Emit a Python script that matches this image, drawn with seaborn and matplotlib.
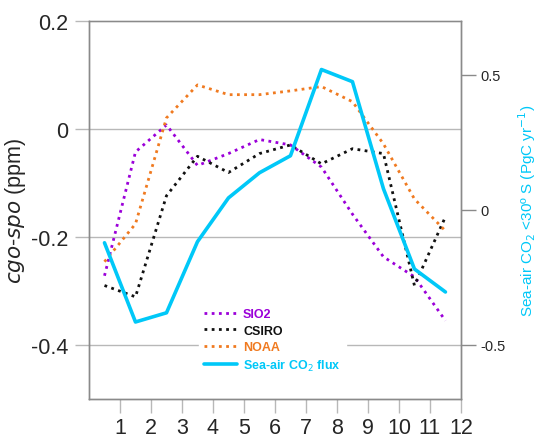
import pandas as pd
import matplotlib.pyplot as plt
import numpy as np
import seaborn as sns

# monthly cgo-spo differences (ppm) and sea-air flux (PgC/yr)
months = [1, 2, 3, 4, 5, 6, 7, 8, 9, 10, 11, 12]
sio2 = [-0.272, -0.043, 0.007, -0.068, -0.046, -0.020, -0.030, -0.071, -0.158, -0.237, -0.274, -0.355]
csiro = [-0.290, -0.311, -0.124, -0.051, -0.081, -0.046, -0.030, -0.065, -0.037, -0.046, -0.290, -0.163]
noaa = [-0.246, -0.176, 0.020, 0.081, 0.063, 0.063, 0.070, 0.078, 0.050, -0.028, -0.130, -0.189]
flux = [-0.122, -0.415, -0.381, -0.118, 0.044, 0.137, 0.200, 0.519, 0.474, 0.078, -0.219, -0.304]

df = pd.DataFrame({'month': np.array(months) - 0.5, 'SIO2': sio2, 'CSIRO': csiro,
                   'NOAA': noaa, 'flux': flux})

sns.set_style('white')
plt.rcParams['font.family'] = ['Liberation Sans', 'DejaVu Sans']

fig = plt.figure(figsize=(5.41, 4.39), dpi=100)
ax = fig.add_axes([0.1645, 0.0888, 0.6875, 0.862])
ax2 = ax.twinx()

grid_c = '#b8b8b8'
spine_c = '#8a8a8a'
for y in [0, -0.2, -0.4]:
    ax.axhline(y, color=grid_c, lw=1, zorder=0)

dots = (0, (1, 1.6))
sns.lineplot(data=df, x='month', y='SIO2', ax=ax, color='#9b00d9', lw=2, linestyle=dots, label='SIO2')
sns.lineplot(data=df, x='month', y='CSIRO', ax=ax, color='#111111', lw=2, linestyle=dots, label='CSIRO')
sns.lineplot(data=df, x='month', y='NOAA', ax=ax, color='#f07a20', lw=2, linestyle=dots, label='NOAA')
sns.lineplot(data=df, x='month', y='flux', ax=ax2, color='#00c8f8', lw=2.6, legend=False)

ax.set_xlim(0, 12)
ax.set_ylim(-0.5, 0.2)
ax2.set_ylim(-0.7, 0.7)
ax.set_xticks(months)
ax.set_xticklabels([str(m) for m in months], fontsize=15.5)
ax.set_yticks([0.2, 0, -0.2, -0.4])
ax.set_yticklabels(['0.2', '0', '-0.2', '-0.4'], fontsize=15.5)
ax2.set_yticks([0.5, 0, -0.5])
ax2.set_yticklabels(['0.5', '0', '-0.5'], fontsize=10.5)

ax.set_xlabel('')
ax.set_ylabel(r'$\it{cgo}$-$\it{spo}$ (ppm)', fontsize=15.5, labelpad=2)
ax2.set_ylabel('Sea-air CO$_2$ <30º S (PgC yr$^{-1}$)', fontsize=11, color='#00c8f8', labelpad=8)

for a in (ax, ax2):
    for s in a.spines.values():
        s.set_color(spine_c)
        s.set_linewidth(1)
ax.spines['top'].set_color(grid_c)
ax.tick_params(axis='y', direction='out', length=10, width=1, color=grid_c, pad=5, left=True)
ax.tick_params(axis='x', direction='out', length=10, width=1, color=grid_c, pad=3, bottom=True)
ax2.tick_params(axis='y', direction='out', length=11, width=1, color=spine_c, pad=3, right=True)

# legend combining both axes
h1, l1 = ax.get_legend_handles_labels()
h2 = ax2.get_lines()
leg = ax2.legend(h1 + h2, l1 + ['Sea-air CO$_2$ flux'], loc='lower left', bbox_to_anchor=(0.28, 0.04),
                 frameon=True, framealpha=1, edgecolor='white', fontsize=9, handlelength=2.6,
                 handletextpad=0.5, labelspacing=0.35, borderpad=0.4)
for txt, line in zip(leg.get_texts(), leg.get_lines()):
    txt.set_color(line.get_color())
    txt.set_fontweight('bold')
ax.get_legend().remove()

plt.savefig('out.png', dpi=100)
